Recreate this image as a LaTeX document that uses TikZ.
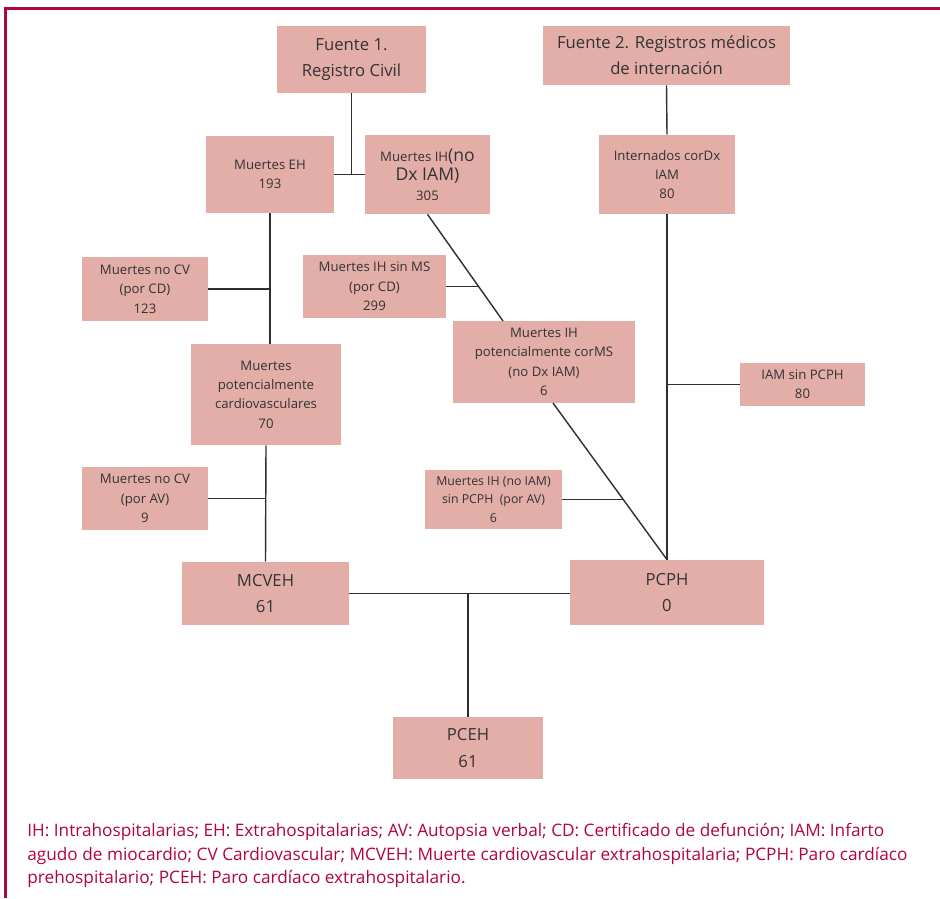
\documentclass[tikz,border=0pt]{standalone}
\usepackage{fontspec}
\setmainfont{Open Sans}
\usetikzlibrary{calc}

\definecolor{rosa}{HTML}{E3ADA8}
\definecolor{borde}{HTML}{B0063A}
\definecolor{linea}{HTML}{2E2E2E}

\tikzset{
  caja/.style={fill=rosa, inner sep=0pt, align=center, text=black!80,
    font=\fontsize{7.5}{11}\selectfont},
  grande/.style={font=\fontsize{9.5}{15}\selectfont},
  tam/.style 2 args={minimum width=#1*0.2mm, minimum height=#2*0.2mm},
  conector/.style={draw=linea, line width=0.8pt}
}

\begin{document}
\begin{tikzpicture}[x=0.2mm,y=-0.2mm]
    %\draw[help lines] (0,0) grid[step=50] (940,898);
       \useasboundingbox (0,0) rectangle (940,898);
       \draw[borde, line width=0.6mm] (5,898) -- (5,9) -- (940,9);

       % fuentes
       \node[caja, grande, tam={149}{67}] (fuente1) at (351.5,59.5) {Fuente 1.\\Registro Civil};
       \node[caja, grande, tam={247}{59}] (fuente2) at (666.5,55.5) {Fuente 2. Registros médicos\\de internación};

       % registro civil
       \node[caja, tam={128}{77}] (eh) at (270,174.5) {Muertes EH\\193};
       \node[caja, tam={125}{79}] (ih) at (427.5,174.5)
         {Muertes IH{\fontsize{10}{15}\selectfont(no}\\{\fontsize{10}{15}\selectfont Dx IAM)}\\305};
       \node[caja, tam={126}{64}] (nocvcd) at (145,289) {Muertes no CV\\(por CD)\\123};
       \node[caja, tam={143}{63}] (ihsms) at (374.5,286.5) {Muertes IH sin MS\\(por CD)\\299};
       \node[caja, tam={182}{82}] (ihpot) at (544,362) {Muertes IH\\potencialmente corMS\\(no Dx IAM)\\6};
       \node[caja, tam={150}{101}] (mpc) at (266,394.5) {Muertes\\potencialmente\\cardiovasculares\\70};
       \node[caja, tam={126}{63}] (nocvav) at (145,498.5) {Muertes no CV\\(por AV)\\9};
       \node[caja, tam={137}{59}, font=\fontsize{7}{10.5}\selectfont] (ihnoiam) at (493.5,499.5)
         {Muertes IH (no IAM)\\sin PCPH\ \ (por AV)\\6};

       % registros medicos
       \node[caja, tam={136}{79}] (internados) at (667,174.5) {Internados corDx\\IAM\\80};
       \node[caja, tam={125}{43}] (iamsin) at (802.5,384.5) {IAM sin PCPH\\80};

       % resultados
       \node[caja, grande, tam={167}{63}] (mcveh) at (265.5,593.5) {MCVEH\\61};
       \node[caja, grande, tam={194}{65}] (pcph) at (667,592.5) {PCPH\\0};
       \node[caja, grande, tam={150}{62}] (pceh) at (468,748) {PCEH\\61};

       \coordinate (d1) at (503,321);
       \coordinate (d2) at (553,403);
       \coordinate (j1) at ($(ih.south)!0.678!(d1)$);
       \coordinate (j2) at ($(d2)!0.615!(pcph.north)$);

       \draw[conector] (fuente1.south) -- (fuente1.south |- eh.east);
       \draw[conector] (eh.east) -- (ih.west);
       \draw[conector] (fuente2.south) -- (internados.north);
       \draw[conector] (eh.south) -- (eh.south |- mpc.north);
       \draw[conector] (nocvcd.east) -- (nocvcd.east -| eh.south);
       \draw[conector] (ih.south) -- (d1);
       \draw[conector] (ihsms.east) -- (ihsms.east -| j1);
       \draw[conector] (d2) -- (pcph.north);
       \draw[conector] (ihnoiam.east) -- (ihnoiam.east -| j2);
       \draw[conector] (internados.south) -- (pcph.north);
       \draw[conector] (iamsin.west) -- (iamsin.west -| internados.south);
       \draw[conector] (mpc.south) -- (mcveh.north);
       \draw[conector] (nocvav.east) -- (nocvav.east -| mpc.south);
       \draw[conector] (mcveh.east) -- (mcveh.east -| pcph.west);
       \draw[conector] (pceh.north) -- (pceh.north |- mcveh.east);

       \node[anchor=north west, align=left, inner sep=0pt, text=borde,
             font=\fontsize{9.8}{13.4}\selectfont] (leyenda) at (27,823)
         {IH: Intrahospitalarias; EH: Extrahospitalarias; AV: Autopsia verbal; CD: Certificado de defunción; IAM: Infarto\\
          agudo de miocardio; CV Cardiovascular; MCVEH: Muerte cardiovascular extrahospitalaria; PCPH: Paro cardíaco\\
          prehospitalario; PCEH: Paro cardíaco extrahospitalario.};
\end{tikzpicture}
\end{document}
